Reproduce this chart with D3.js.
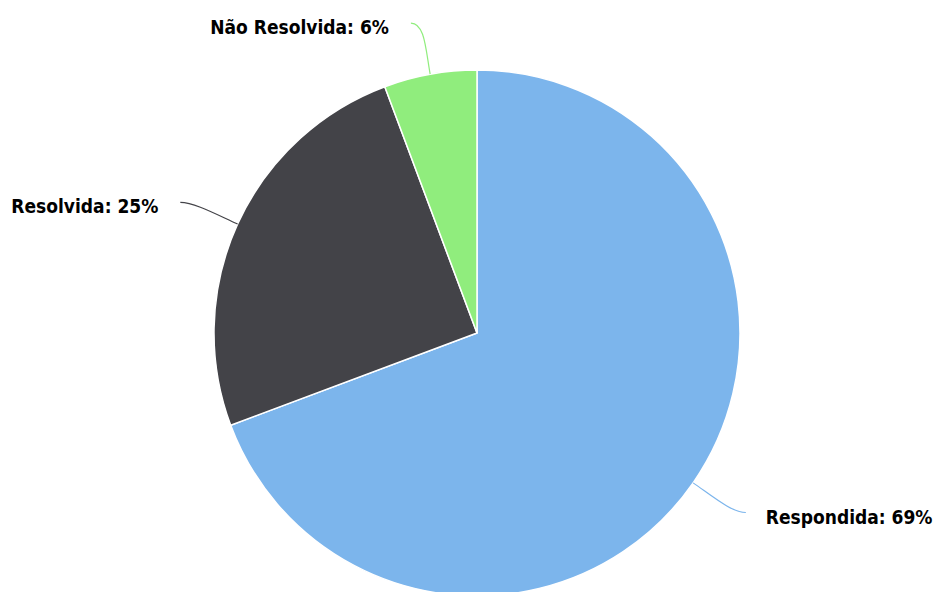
<!DOCTYPE html>
<html><head><meta charset="utf-8">
<script src="https://cdn.jsdelivr.net/npm/d3@7"></script>
<style>html,body{margin:0;padding:0;background:#fff;}svg{display:block;}</style>
</head><body>
<svg id="chart" width="939" height="592"></svg>
<script>
const categories = ["Respondida", "Resolvida", "Não Resolvida"];
const values = [69.3, 25.0, 5.7];
const labels = ["Respondida: 69%", "Resolvida: 25%", "Não Resolvida: 6%"];
const colors = ["#7cb5ec", "#434348", "#90ed7d"];

const svg = d3.select("#chart");
const cx = 477, cy = 333, r = 263;
const g = svg.append("g").attr("transform", `translate(${cx},${cy})`);

const data = categories.map((c, i) => ({ c, v: values[i], label: labels[i], color: colors[i] }));
const pie = d3.pie().value(d => d.v).sort(null);
const arcs = pie(data);
const arc = d3.arc().innerRadius(0).outerRadius(r);

g.selectAll("path.slice").data(arcs).enter().append("path")
  .attr("class", "slice")
  .attr("d", arc)
  .attr("fill", d => d.data.color)
  .attr("stroke", "#ffffff")
  .attr("stroke-width", 1.5)
  .attr("stroke-linejoin", "round");

function polar(rad, a) { return [rad * Math.sin(a), -rad * Math.cos(a)]; }

arcs.forEach(d => {
  const a = (d.startAngle + d.endAngle) / 2;
  const right = Math.sin(a) > 0;
  const p0 = polar(r, a);
  const p1 = polar(r + 25, a);
  const pe = polar(r + 52, a);
  const end = [pe[0] + (right ? 10 : -10), pe[1]];
  const c2 = [end[0] + (right ? -14 : 14), end[1]];
  g.append("path")
    .attr("d", `M${p0[0]},${p0[1]} C${p1[0]},${p1[1]} ${c2[0]},${c2[1]} ${end[0]},${end[1]}`)
    .attr("fill", "none")
    .attr("stroke", d.data.color)
    .attr("stroke-width", 1.2);
  g.append("text")
    .attr("x", end[0] + (right ? 20 : -22))
    .attr("y", end[1] + 11)
    .attr("text-anchor", right ? "start" : "end")
    .attr("font-family", "'DejaVu Sans Condensed', 'DejaVu Sans', sans-serif")
    .attr("font-weight", "bold")
    .attr("font-size", "19px")
    .attr("fill", "#000")
    .attr("stroke", "#fff")
    .attr("stroke-width", 1)
    .attr("paint-order", "stroke")
    .text(d.data.label);
});
</script>
</body></html>
